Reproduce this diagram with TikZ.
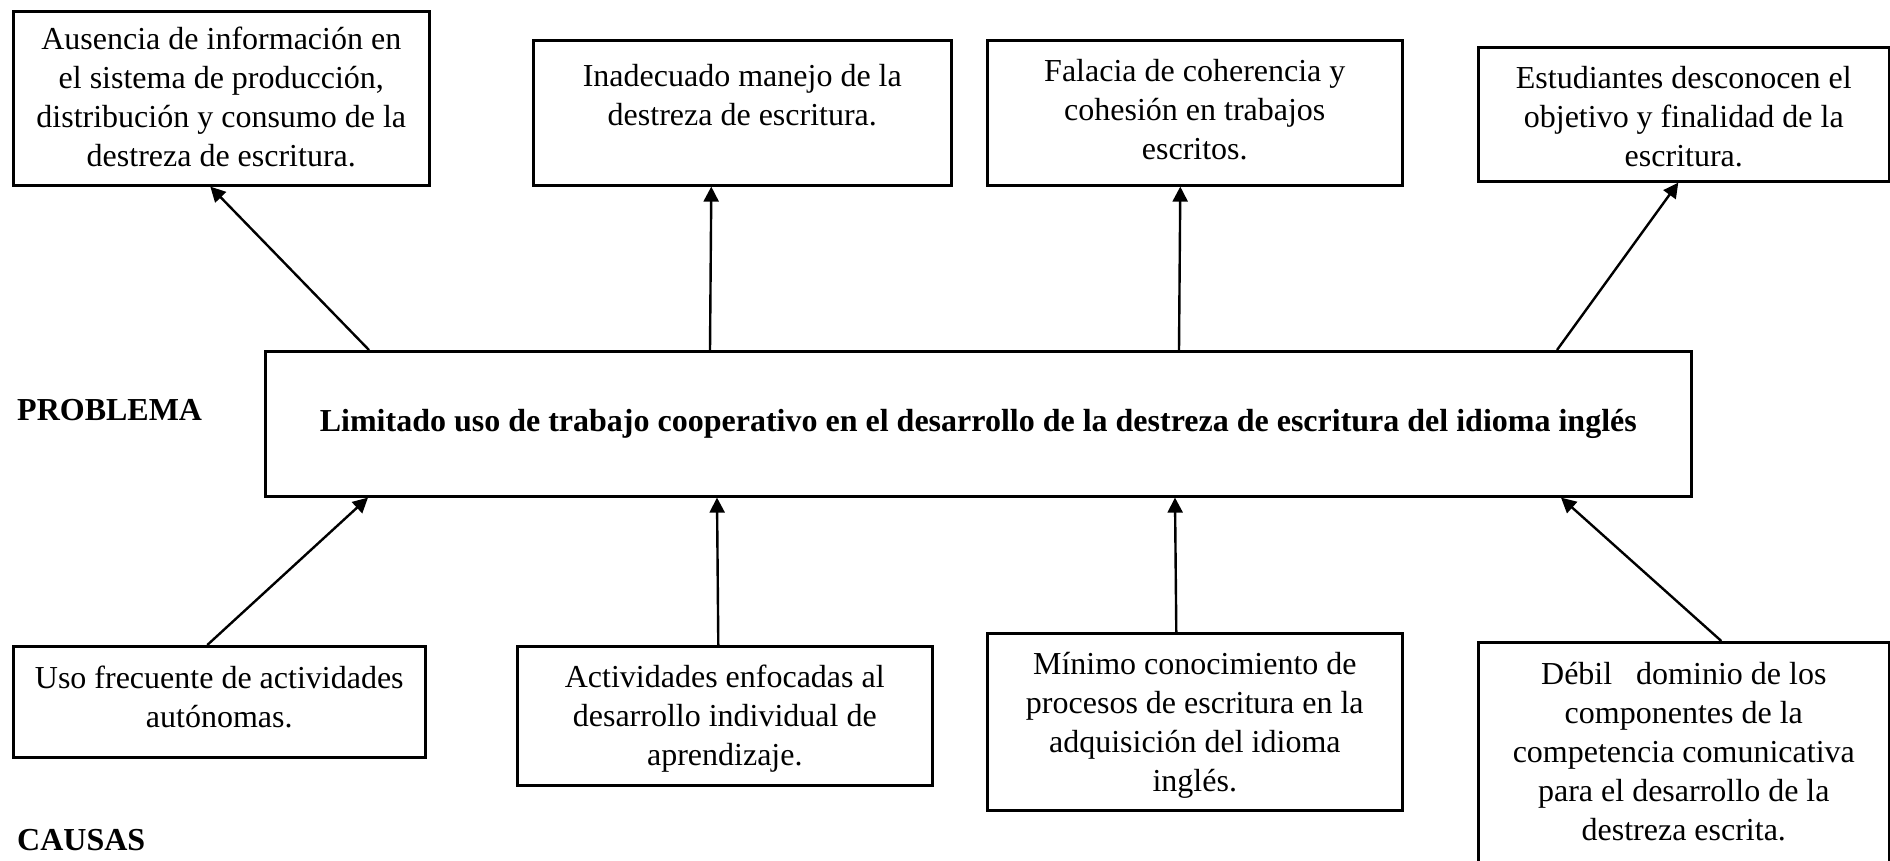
\documentclass[tikz,border=0pt]{standalone}
\usepackage{fontspec}
\setmainfont{Liberation Serif}
\usetikzlibrary{arrows.meta}
\newcommand{\textocaja}[4]{\begin{minipage}[t][#2pt][t]{#1pt}\centering\vspace*{#3pt}#4\end{minipage}}

\begin{document}
\begin{tikzpicture}[x=1pt, y=-1pt,
    caja/.style={draw, line width=2.6pt, inner sep=0pt, anchor=north west, font=\fontsize{32}{39}\selectfont},
    titulo/.style={inner sep=0pt, anchor=west, font=\fontsize{32}{39}\selectfont\bfseries},
    flecha/.style={line width=2.4pt, -{Triangle[length=15pt, width=15pt]}}]
    \useasboundingbox (0,0) rectangle (1890,861);
    % efectos
    \node[caja] (e1) at (12,10) {\textocaja{416}{174}{16}{Ausencia de información en\\ el sistema de producción,\\ distribución y consumo de la\\ destreza de escritura.}};
    \node[caja] (e2) at (532,39) {\textocaja{418}{145}{24}{Inadecuado manejo de la\\ destreza de escritura.}};
    \node[caja] (e3) at (986,39) {\textocaja{415}{145}{19}{Falacia de coherencia y\\ cohesión en trabajos\\ escritos.}};
    \node[caja] (e4) at (1477,46) {\textocaja{411}{134}{19}{Estudiantes desconocen el\\ objetivo y finalidad de la\\ escritura.}};
    % problema
    \node[caja, font=\fontsize{32}{39}\selectfont\bfseries, minimum width=1426pt, minimum height=145pt] (principal) at (264,350) {Limitado uso de trabajo cooperativo en el desarrollo de la destreza de escritura del idioma inglés};
    \node[titulo] (problema) at (17,410) {PROBLEMA};
    % causas
    \node[caja] (c1) at (12,645) {\textocaja{412}{111}{20}{Uso frecuente de actividades\\ autónomas.}};
    \node[caja] (c2) at (516,645) {\textocaja{415}{139}{19}{Actividades enfocadas al\\ desarrollo individual de\\ aprendizaje.}};
    \node[caja] (c3) at (986,632) {\textocaja{415}{177}{19}{Mínimo conocimiento de\\ procesos de escritura en la\\ adquisición del idioma\\ inglés.}};
    \node[caja] (c4) at (1477,641) {\textocaja{411}{225}{20}{Débil\ \ \ dominio de los\\ componentes de la\\ competencia comunicativa\\ para el desarrollo de la\\ destreza escrita.}};
    \node[titulo] (causas) at (17,840) {CAUSAS};

    \draw[flecha] ([xshift=105pt]principal.north west) -- ([xshift=-11pt]e1.south);
    \draw[flecha] ([xshift=446pt]principal.north west) -- ([xshift=-31pt]e2.south);
    \draw[flecha] ([xshift=915pt]principal.north west) -- ([xshift=-14.5pt]e3.south);
    \draw[flecha] ([xshift=1293pt]principal.north west) -- ([xshift=-5.5pt]e4.south);
    \draw[flecha] ([xshift=-12pt]c1.north) -- ([xshift=104pt]principal.south west);
    \draw[flecha] ([xshift=-6.5pt]c2.north) -- ([xshift=453pt]principal.south west);
    \draw[flecha] ([xshift=-18.5pt]c3.north) -- ([xshift=911pt]principal.south west);
    \draw[flecha] ([xshift=37.5pt]c4.north) -- ([xshift=1297pt]principal.south west);
\end{tikzpicture}
\end{document}
